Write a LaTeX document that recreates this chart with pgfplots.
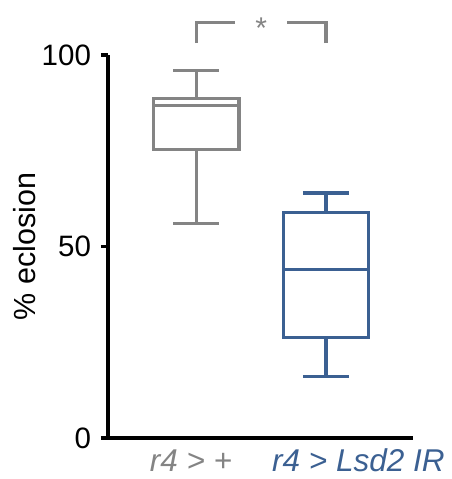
\documentclass[border=0pt]{standalone}
\usepackage{pgfplots}
\pgfplotsset{compat=1.18}
\usepgfplotslibrary{statistics}
\usepackage{fontspec}
\setmainfont{Liberation Sans}
\definecolor{cgray}{RGB}{132,132,132}
\definecolor{cblue}{RGB}{59,96,146}
\begin{document}
\fontsize{29.5}{34}\selectfont
\begin{tikzpicture}
\path[use as bounding box] (-108pt,-41pt) rectangle (344pt,438pt);
\begin{axis}[
  at={(0pt,0pt)}, anchor=south west,
  scale only axis, width=305pt, height=383pt,
  xmin=0.317, xmax=2.672, ymin=0, ymax=100,
  axis x line=bottom, axis y line=left,
  axis line style={-, line width=3.3pt, black},
  ytick={0,50,100},
  xtick={0.958,2.251},
  xticklabels={\textcolor{cgray}{\textit{r4 > +}}, \textcolor{cblue}{\textit{r4 > Lsd2 IR}}},
  x tick label style={anchor=base, yshift=-27pt, font=\fontsize{31.5}{36}\selectfont},
  major x tick style={draw=none},
  major y tick style={line width=3.3pt, black},
  tick align=outside, major tick length=7pt,
  /pgf/number format/assume math mode=true,
  ylabel={\% eclosion},
  ylabel style={at={(axis description cs:-0.275,0.5)}, anchor=center, font=\fontsize{30.5}{35}\selectfont},
  clip=false,
  boxplot/draw direction=y,
  boxplot/every box/.style={line width=3.4pt},
  boxplot/every whisker/.style={line width=3.4pt},
  boxplot/every median/.style={line width=3.4pt},
]
\addplot+[mark=none, color=cgray, line width=3.4pt, solid,
  boxplot prepared={draw position=1, lower whisker=56, lower quartile=75.4,
    median=86.8, upper quartile=88.7, upper whisker=96,
    box extend=0.66, whisker extend=0.355}] coordinates {};
\addplot+[mark=none, color=cblue, line width=3.4pt, solid,
  boxplot prepared={draw position=2, lower whisker=16, lower quartile=26.2,
    median=44, upper quartile=58.8, upper whisker=64,
    box extend=0.66, whisker extend=0.355}] coordinates {};
\draw[cgray, line width=3.2pt] (axis cs:1.0,103.1) |- (axis cs:1.3,108.4);
\draw[cgray, line width=3.2pt] (axis cs:2.0,103.1) |- (axis cs:1.7,108.4);
\node[text=cgray, anchor=base, inner sep=0pt, font=\fontsize{30}{34}\selectfont] at (axis cs:1.5,104.2) {*};
\end{axis}
\end{tikzpicture}
\end{document}
